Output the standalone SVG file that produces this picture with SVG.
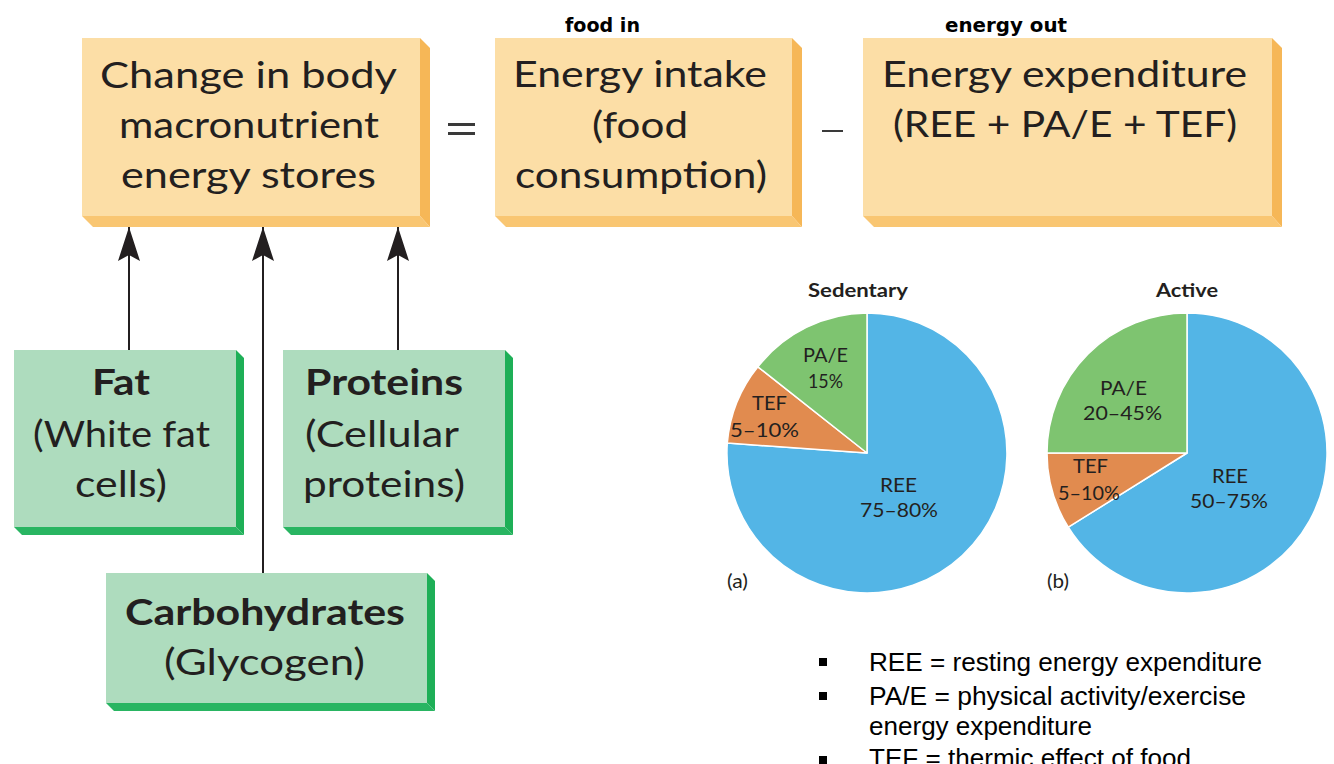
<svg xmlns="http://www.w3.org/2000/svg" width="1334" height="764" viewBox="0 0 1334 764">
<style>
.box-o{fill:#FCDEA6}
.side-o{fill:#F6B757}
.bot-o{fill:#F9C672}
.box-g{fill:#AEDCBE}
.side-g{fill:#1EAF57}
.bot-g{fill:#29B562}
.t{font-family:Lato,"Open Sans",sans-serif;font-size:37px;fill:#231F20;text-anchor:middle}
.tb{font-family:Lato,"Open Sans",sans-serif;font-size:37px;font-weight:bold;fill:#231F20;text-anchor:middle}
.p{font-family:Lato,"Open Sans",sans-serif;font-size:19px;fill:#231F20;text-anchor:middle}
.pb{font-family:Lato,"Open Sans",sans-serif;font-size:19.5px;font-weight:bold;fill:#231F20;text-anchor:middle}
.hw{font-family:"DejaVu Sans",sans-serif;font-size:19px;font-weight:bold;fill:#000}
.leg{font-family:"Liberation Sans",Arial,sans-serif;font-size:25px;fill:#000}
.conn{stroke:#231F20;stroke-width:2;fill:none}
.sep{stroke:#FFFFFF;stroke-width:1.5;stroke-linejoin:round}
</style>
<defs>
<marker id="ah" viewBox="0 0 34 22" refX="34" refY="11" markerWidth="34" markerHeight="22" markerUnits="userSpaceOnUse" orient="auto">
<path d="M34,11 L0,0 L6,11 L0,22 z" fill="#231F20"/>
</marker>
</defs>
<rect width="1334" height="764" fill="#FFFFFF"/>

<g id="node-change">
<polygon class="side-o" points="420,38 430,48 430,227 420,216"/>
<polygon class="bot-o" points="82,216 420,216 430,227 93,227"/>
<rect class="box-o" x="82" y="38" width="338" height="178"/>
<text class="t" x="248.5" y="88" textLength="297" lengthAdjust="spacingAndGlyphs">Change in body</text>
<text class="t" x="249" y="138" textLength="260" lengthAdjust="spacingAndGlyphs">macronutrient</text>
<text class="t" x="248.5" y="188" textLength="255" lengthAdjust="spacingAndGlyphs">energy stores</text>
</g>

<g id="node-intake">
<polygon class="side-o" points="792,38 802,48 802,227 792,216"/>
<polygon class="bot-o" points="495,216 792,216 802,227 506,227"/>
<rect class="box-o" x="495" y="38" width="297" height="178"/>
<text class="t" x="640" y="87" textLength="254" lengthAdjust="spacingAndGlyphs">Energy intake</text>
<text class="t" x="640" y="138" textLength="96" lengthAdjust="spacingAndGlyphs">(food</text>
<text class="t" x="641" y="188" textLength="252" lengthAdjust="spacingAndGlyphs">consumption)</text>
</g>

<g id="node-expenditure">
<polygon class="side-o" points="1272,38 1282,48 1282,227 1272,216"/>
<polygon class="bot-o" points="863,216 1272,216 1282,227 874,227"/>
<rect class="box-o" x="863" y="38" width="409" height="178"/>
<text class="t" x="1064.5" y="87" textLength="365" lengthAdjust="spacingAndGlyphs">Energy expenditure</text>
<text class="t" x="1065" y="137" textLength="344" lengthAdjust="spacingAndGlyphs">(REE + PA/E + TEF)</text>
</g>

<g id="operators">
<rect x="448" y="123" width="27" height="3" fill="#3A3A3A"/>
<rect x="448" y="132" width="27" height="3" fill="#3A3A3A"/>
<rect x="822" y="130" width="21" height="2" fill="#3A3A3A"/>
</g>

<g id="handwritten">
<text class="hw" x="565" y="32" textLength="75" lengthAdjust="spacingAndGlyphs">food in</text>
<text class="hw" x="945" y="32" textLength="122" lengthAdjust="spacingAndGlyphs">energy out</text>
</g>

<g id="node-fat">
<polygon class="side-g" points="236,350 244,358 244,535 236,527"/>
<polygon class="bot-g" points="14,527 236,527 244,535 22,535"/>
<rect class="box-g" x="14" y="350" width="222" height="177"/>
<text class="tb" x="121" y="395" textLength="58" lengthAdjust="spacingAndGlyphs">Fat</text>
<text class="t" x="121.5" y="447" textLength="177" lengthAdjust="spacingAndGlyphs">(White fat</text>
<text class="t" x="121" y="497" textLength="92" lengthAdjust="spacingAndGlyphs">cells)</text>
</g>

<g id="node-proteins">
<polygon class="side-g" points="505,350 513,358 513,535 505,527"/>
<polygon class="bot-g" points="283,527 505,527 513,535 291,535"/>
<rect class="box-g" x="283" y="350" width="222" height="177"/>
<text class="tb" x="384" y="395" textLength="158" lengthAdjust="spacingAndGlyphs">Proteins</text>
<text class="t" x="382" y="447" textLength="154" lengthAdjust="spacingAndGlyphs">(Cellular</text>
<text class="t" x="384" y="497" textLength="162" lengthAdjust="spacingAndGlyphs">proteins)</text>
</g>

<g id="node-carbohydrates">
<polygon class="side-g" points="427,573 435,581 435,711 427,703"/>
<polygon class="bot-g" points="106,703 427,703 435,711 114,711"/>
<rect class="box-g" x="106" y="573" width="321" height="130"/>
<text class="tb" x="265" y="625" textLength="280" lengthAdjust="spacingAndGlyphs">Carbohydrates</text>
<text class="t" x="264.5" y="675" textLength="201" lengthAdjust="spacingAndGlyphs">(Glycogen)</text>
</g>

<g id="connectors">
<line class="conn" x1="129" y1="350" x2="129" y2="227" marker-end="url(#ah)"/>
<line class="conn" x1="263" y1="573" x2="263" y2="227" marker-end="url(#ah)"/>
<line class="conn" x1="398" y1="350" x2="398" y2="227" marker-end="url(#ah)"/>
</g>

<g id="pie-sedentary">
<text class="pb" x="858" y="297" textLength="100" lengthAdjust="spacingAndGlyphs">Sedentary</text>
<path class="sep" fill="#53B5E6" d="M867,453 L867,313 A140,140 0 1 1 727.3,443 Z"/>
<path class="sep" fill="#E18B4F" d="M867,453 L727.3,443 A140,140 0 0 1 757.9,366.8 Z"/>
<path class="sep" fill="#7EC470" d="M867,453 L757.9,366.8 A140,140 0 0 1 867,313 Z"/>
<text class="p" x="825.5" y="362" textLength="45" lengthAdjust="spacingAndGlyphs">PA/E</text>
<text class="p" x="825.5" y="388" textLength="35" lengthAdjust="spacingAndGlyphs">15%</text>
<text class="p" x="769.5" y="410" textLength="35" lengthAdjust="spacingAndGlyphs">TEF</text>
<text class="p" x="764.5" y="437" textLength="69" lengthAdjust="spacingAndGlyphs">5–10%</text>
<text class="p" x="898.5" y="492" textLength="37" lengthAdjust="spacingAndGlyphs">REE</text>
<text class="p" x="899" y="517" textLength="78" lengthAdjust="spacingAndGlyphs">75–80%</text>
<text class="p" x="737.5" y="588" textLength="21" lengthAdjust="spacingAndGlyphs">(a)</text>
</g>

<g id="pie-active">
<text class="pb" x="1187" y="297" textLength="62" lengthAdjust="spacingAndGlyphs">Active</text>
<path class="sep" fill="#53B5E6" d="M1187,453 L1187,313 A140,140 0 1 1 1068.3,527.2 Z"/>
<path class="sep" fill="#E18B4F" d="M1187,453 L1068.3,527.2 A140,140 0 0 1 1047,453 Z"/>
<path class="sep" fill="#7EC470" d="M1187,453 L1047,453 A140,140 0 0 1 1187,313 Z"/>
<text class="p" x="1123.5" y="395" textLength="47" lengthAdjust="spacingAndGlyphs">PA/E</text>
<text class="p" x="1122.5" y="420" textLength="79" lengthAdjust="spacingAndGlyphs">20–45%</text>
<text class="p" x="1090.5" y="473" textLength="35" lengthAdjust="spacingAndGlyphs">TEF</text>
<text class="p" x="1089" y="500" textLength="62" lengthAdjust="spacingAndGlyphs">5–10%</text>
<text class="p" x="1230" y="483" textLength="36" lengthAdjust="spacingAndGlyphs">REE</text>
<text class="p" x="1229" y="508" textLength="78" lengthAdjust="spacingAndGlyphs">50–75%</text>
<text class="p" x="1058" y="588" textLength="22" lengthAdjust="spacingAndGlyphs">(b)</text>
</g>

<g id="legend">
<rect x="819" y="658" width="8" height="8" fill="#000"/>
<rect x="819" y="692" width="8" height="8" fill="#000"/>
<rect x="819" y="756" width="8" height="8" fill="#000"/>
<text class="leg" x="869" y="671" textLength="393" lengthAdjust="spacingAndGlyphs">REE = resting energy expenditure</text>
<text class="leg" x="869" y="705" textLength="377" lengthAdjust="spacingAndGlyphs">PA/E = physical activity/exercise</text>
<text class="leg" x="869" y="735" textLength="223" lengthAdjust="spacingAndGlyphs">energy expenditure</text>
<text class="leg" x="869" y="767" textLength="322" lengthAdjust="spacingAndGlyphs">TEF = thermic effect of food</text>
</g>
</svg>
